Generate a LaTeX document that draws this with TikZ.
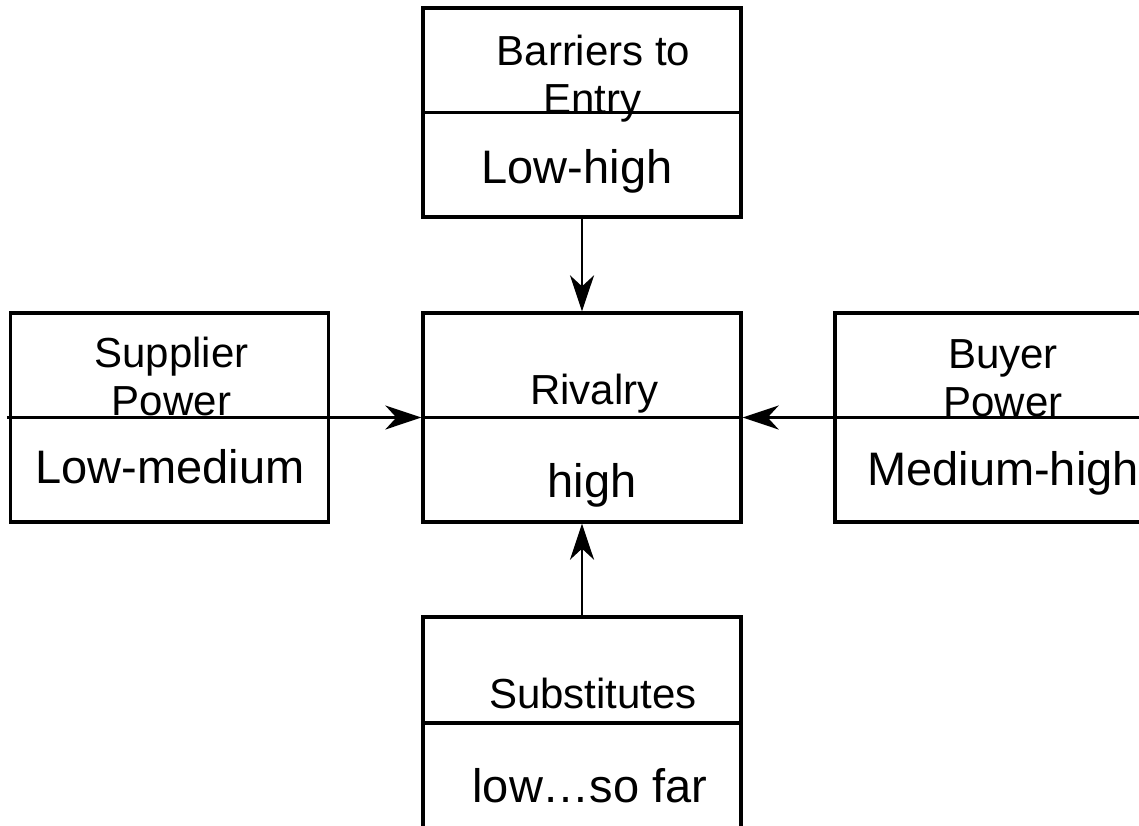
\documentclass[tikz,border=0pt]{standalone}
\usepackage{fontspec}
\setmainfont{Liberation Sans}
\usetikzlibrary{arrows.meta}
\begin{document}
\begin{tikzpicture}[x=1pt,y=-1pt,
  box/.style={draw,line width=3.3pt,minimum width=318pt,minimum height=209pt,inner sep=0pt},
  divider/.style={line width=3.3pt},
  hd/.style={anchor=base,inner sep=0pt,font=\fontsize{42}{48}\selectfont},
  val/.style={anchor=base,inner sep=0pt,font=\fontsize{47}{52}\selectfont},
  arr/.style={line width=2.7pt,-{Stealth[length=36pt,width=24pt,inset=11pt]}}]
\useasboundingbox (0,0) rectangle (1139,825);
\clip (0,0) rectangle (1139,825);
% boxes
\node[box] (top) at (582,112.5) {};
\node[box] (sup) at (169.5,417.5) {};
\node[box] (riv) at (582,417.5) {};
\node[box] (buy) at (994,417.5) {};
\node[box,minimum height=212pt] (sub) at (582,723) {};
% dividers
\draw[divider] (top.west) -- (top.east);
\draw[divider] ([xshift=-2pt]sup.west) -- (sup.east);
\draw[divider] (riv.west) -- (riv.east);
\draw[divider] (buy.west) -- (buy.east);
\draw[divider] (sub.west) -- (sub.east);
% texts
\node[hd] (t1) at (593.5,65) {Barriers to};
\node[hd] (t2) at (592.5,113) {Entry};
\node[val] (t3) at (577,183) {Low-high};
\node[hd] (s1) at (171.5,367) {Supplier};
\node[hd] (s2) at (171.5,415) {Power};
\node[val] (s3) at (170,483) {Low-medium};
\node[hd] (r1) at (594.5,404) {Rivalry};
\node[val] (r2) at (592,497) {high};
\node[hd] (b1) at (1003,368) {Buyer};
\node[hd] (b2) at (1003,416) {Power};
\node[val] (b3) at (1003,485) {Medium-high};
\node[hd] (u1) at (593,708) {Substitutes};
\node[val] (u2) at (590,802) {low…so far};
% connectors
\draw[arr] (top.south) -- (riv.north);
\draw[arr] (sub.north) -- (riv.south);
\draw[arr] (sup.east) -- (riv.west);
\draw[arr] (buy.west) -- (riv.east);
\end{tikzpicture}
\end{document}
